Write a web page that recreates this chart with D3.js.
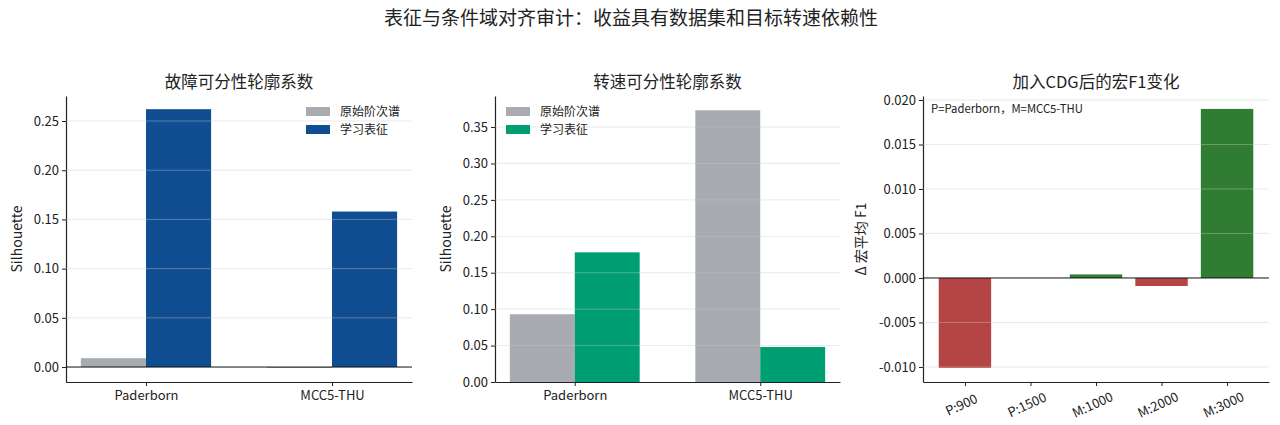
<!DOCTYPE html>
<html>
<head>
<meta charset="utf-8">
<script src="https://cdn.jsdelivr.net/npm/d3@7"></script>
<style>
  body { margin: 0; background: #fff; }
  svg text { font-family: "Noto Sans CJK SC", "Noto Sans", sans-serif; fill: #222; }
</style>
</head>
<body>
<div id="chart"></div>
<script>
// data
const datasets = ['Paderborn', 'MCC5-THU']
const seriesNames = ['原始阶次谱', '学习表征']
const faultRaw = [0.009, -0.001]
const faultLearned = [0.262, 0.158]
const speedRaw = [0.093, 0.373]
const speedLearned = [0.178, 0.048]
const f1Labels = ['P:900', 'P:1500', 'M:1000', 'M:2000', 'M:3000']
const f1Delta = [-0.0101, 0.0, 0.0004, -0.0009, 0.019]
const faultTicks = [0, 0.05, 0.1, 0.15, 0.2, 0.25]
const speedTicks = [0, 0.05, 0.1, 0.15, 0.2, 0.25, 0.3, 0.35]
const f1Ticks = [-0.01, -0.005, 0, 0.005, 0.01, 0.015, 0.02]

const W = 1280, H = 425
const gray = '#a8abb0', blue = '#114d91', teal = '#009e73'
const red = '#b54545', green = '#2e7d32'

const svg = d3.select('#chart').append('svg').attr('width', W).attr('height', H)

svg.append('text')
  .attr('x', 631).attr('y', 25)
  .attr('text-anchor', 'middle')
  .style('font-size', '19px')
  .text('表征与条件域对齐审计：收益具有数据集和目标转速依赖性')

function panel({ left, right, top, bottom, xDomain, yDomain, yTicks, yFmt, title, ylabel, ylabelX }) {
  const x = d3.scaleLinear().domain(xDomain).range([left, right])
  const y = d3.scaleLinear().domain(yDomain).range([bottom, top])
  const g = svg.append('g')

  g.append('text')
    .attr('x', (left + right) / 2).attr('y', 88)
    .attr('text-anchor', 'middle')
    .style('font-size', '16.5px')
    .text(title)

  g.append('text')
    .attr('transform', `translate(${ylabelX},${(top + bottom) / 2}) rotate(-90)`)
    .attr('text-anchor', 'middle')
    .style('font-size', '14px')
    .text(ylabel)

  const yAxis = g.append('g')
    .attr('transform', `translate(${left},0)`)
    .call(d3.axisLeft(y).tickValues(yTicks).tickFormat(yFmt).tickSize(4).tickSizeOuter(0))
  yAxis.select('.domain').attr('stroke', '#222').attr('stroke-width', 1.2)
  yAxis.selectAll('.tick line').attr('stroke', '#222')
  yAxis.selectAll('.tick text').style('font-size', '13px').attr('x', -7)

  return { g, x, y }
}

function xAxisFor({ g, x, y }, ticks, labels, rotate) {
  const bottom = y.range()[0]
  const xAxis = g.append('g')
    .attr('transform', `translate(0,${bottom})`)
    .call(d3.axisBottom(x).tickValues(ticks).tickFormat((d, i) => labels[i]).tickSize(4).tickSizeOuter(0))
  xAxis.select('.domain').attr('stroke', '#222').attr('stroke-width', 1.2)
  xAxis.selectAll('.tick line').attr('stroke', '#222')
  const tt = xAxis.selectAll('.tick text').style('font-size', '13px')
  if (rotate) {
    tt.attr('text-anchor', 'middle')
      .attr('dy', 0).attr('y', 0)
      .attr('transform', 'translate(-2,27) rotate(-25)')
  } else {
    tt.attr('y', 9)
  }
}

function grid({ g, x, y }, vals) {
  const [left, right] = x.range()
  g.append('g').selectAll('line').data(vals).join('line')
    .attr('x1', left).attr('x2', right)
    .attr('y1', d => y(d)).attr('y2', d => y(d))
    .attr('stroke', '#c8c8c8').attr('stroke-opacity', 0.4).attr('stroke-width', 1)
}

function zeroLine({ g, x, y }) {
  const [left, right] = x.range()
  g.append('line')
    .attr('x1', left).attr('x2', right)
    .attr('y1', y(0)).attr('y2', y(0))
    .attr('stroke', '#111').attr('stroke-width', 1)
}

function groupedBars(p, raw, learned, colors) {
  const bw = 0.35
  const rows = datasets.map((d, i) => [
    { x: i - bw, v: raw[i], c: colors[0] },
    { x: i, v: learned[i], c: colors[1] }
  ]).flat()
  p.g.append('g').selectAll('rect').data(rows).join('rect')
    .attr('x', d => p.x(d.x))
    .attr('width', d => p.x(d.x + bw) - p.x(d.x))
    .attr('y', d => p.y(Math.max(0, d.v)))
    .attr('height', d => Math.abs(p.y(d.v) - p.y(0)))
    .attr('fill', d => d.c)
}

function legend(g, lx, ly, colors) {
  const items = g.append('g')
  seriesNames.forEach((name, i) => {
    items.append('rect').attr('x', lx).attr('y', ly + i * 18 - 5)
      .attr('width', 24).attr('height', 9).attr('fill', colors[i])
    items.append('text').attr('x', lx + 34).attr('y', ly + i * 18 + 4)
      .style('font-size', '12px').text(name)
  })
}

const fmt2 = d3.format('.2f')
const fmt3 = d => d3.format('.3f')(d).replace('−', '-')

// panel 1
const p1 = panel({
  left: 66, right: 412, top: 96, bottom: 382,
  xDomain: [-0.43, 1.43], yDomain: [-0.0152, 0.2754],
  yTicks: faultTicks, yFmt: fmt2,
  title: '故障可分性轮廓系数', ylabel: 'Silhouette', ylabelX: 22
})
groupedBars(p1, faultRaw, faultLearned, [gray, blue])
grid(p1, faultTicks.filter(d => d !== 0))
zeroLine(p1)
xAxisFor(p1, [0, 1], datasets, false)
legend(p1.g, 306, 112, [gray, blue])

// panel 2
const p2 = panel({
  left: 495, right: 840, top: 96, bottom: 382,
  xDomain: [-0.43, 1.43], yDomain: [0, 0.3926],
  yTicks: speedTicks, yFmt: fmt2,
  title: '转速可分性轮廓系数', ylabel: 'Silhouette', ylabelX: 451
})
groupedBars(p2, speedRaw, speedLearned, [gray, teal])
grid(p2, speedTicks.filter(d => d !== 0))
xAxisFor(p2, [0, 1], datasets, false)
legend(p2.g, 506, 112, [gray, teal])

// panel 3
const p3 = panel({
  left: 923, right: 1269, top: 96, bottom: 382,
  xDomain: [-0.64, 4.64], yDomain: [-0.01169, 0.02045],
  yTicks: f1Ticks, yFmt: fmt3,
  title: '加入CDG后的宏F1变化', ylabel: 'Δ 宏平均 F1', ylabelX: 866
})
p3.g.append('g').selectAll('rect').data(f1Delta).join('rect')
  .attr('x', (d, i) => p3.x(i - 0.4))
  .attr('width', (d, i) => p3.x(i + 0.4) - p3.x(i - 0.4))
  .attr('y', d => p3.y(Math.max(0, d)))
  .attr('height', d => Math.abs(p3.y(d) - p3.y(0)))
  .attr('fill', d => d < 0 ? red : green)
grid(p3, f1Ticks.filter(d => d !== 0))
zeroLine(p3)
xAxisFor(p3, d3.range(f1Labels.length), f1Labels, true)
p3.g.append('text').attr('x', 931).attr('y', 113)
  .style('font-size', '11.3px').text('P=Paderborn，M=MCC5-THU')
</script>
</body>
</html>
